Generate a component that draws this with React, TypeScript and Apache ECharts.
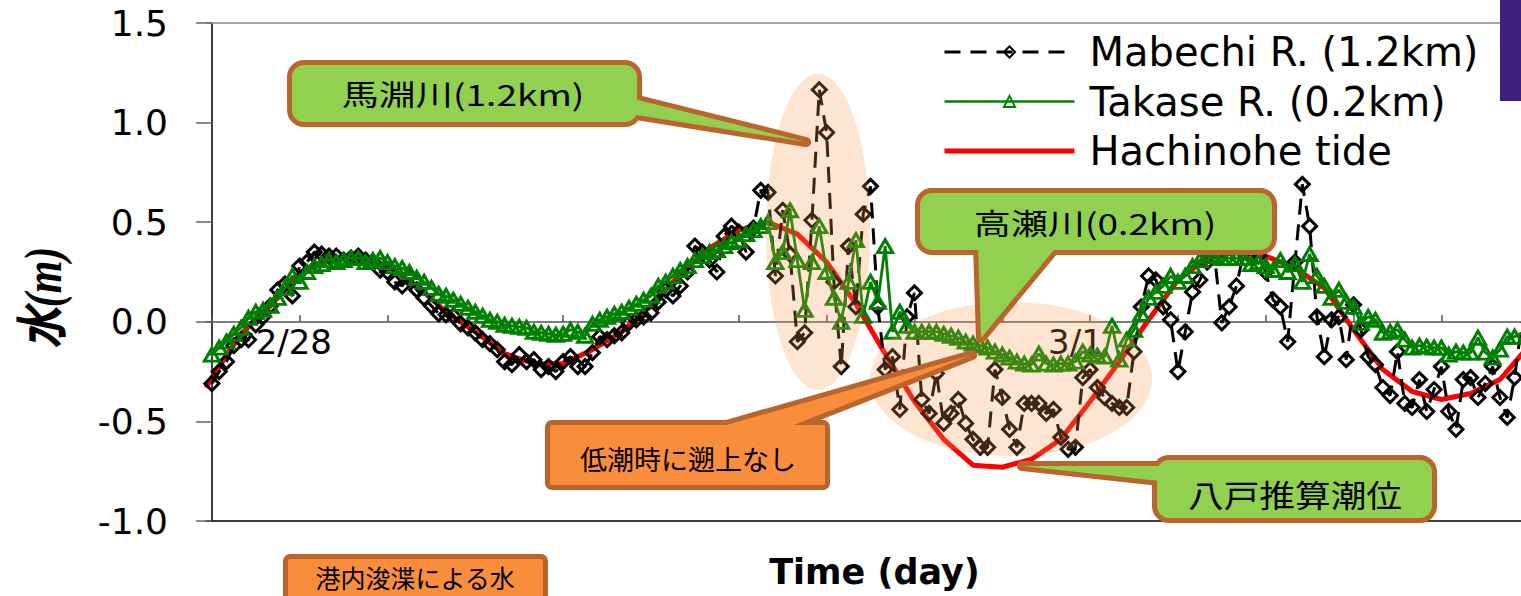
import React, { useEffect, useRef } from 'react';
import * as echarts from 'echarts';

// Water level (m) sampled every 15 minutes from the start of the record
const sampleStepHours = 0.25;

const mabechiLevel = [
  -0.31, -0.25, -0.2, -0.12,
  -0.09, -0.09, -0.015, 0.025,
  0.08, 0.16, 0.19, 0.13,
  0.28, 0.3, 0.35, 0.34,
  0.33, 0.33, 0.31, 0.32,
  0.33, 0.31, 0.3, 0.26,
  0.25, 0.2, 0.18, 0.23,
  0.16, 0.12, 0.08, 0.04,
  0.035, 0.03, -0.01, -0.03,
  -0.055, -0.09, -0.11, -0.14,
  -0.2, -0.215, -0.165, -0.2,
  -0.19, -0.24, -0.225, -0.25,
  -0.2, -0.175, -0.225, -0.225,
  -0.155, -0.075, -0.09, -0.07,
  -0.055, -0.005, 0.01, 0.025,
  0.045, 0.1, 0.16, 0.13,
  0.18, 0.25, 0.38, 0.35,
  0.31, 0.25, 0.43, 0.48,
  0.45, 0.35, 0.47, 0.66,
  0.65, 0.23, 0.56, 0.34,
  -0.1, -0.055, 0.51, 1.165,
  0.95, 0.2, -0.225, 0.38,
  0.075, 0.54, 0.68, 0.075,
  -0.24, -0.175, -0.44, 0.025,
  0.145, -0.39, -0.46, -0.26,
  -0.51, -0.46, -0.39, -0.51,
  -0.59, -0.63, -0.63, -0.24,
  -0.38, -0.54, -0.63, -0.41,
  -0.41, -0.41, -0.46, -0.44,
  -0.58, -0.64, -0.63, -0.28,
  -0.24, -0.33, -0.38, -0.41,
  -0.43, -0.43, -0.15, 0.075,
  0.23, 0.21, 0.075, 0.01,
  -0.25, -0.05, 0.15, 0.21,
  0.3, 0.33, -0.005, 0.075,
  0.18, 0.35, 0.34, 0.33,
  0.25, 0.11, 0.075, -0.1,
  0.3, 0.69, 0.48, 0.025,
  -0.175, 0.01, 0.025, -0.19,
  0.085, -0.04, -0.175, -0.215,
  -0.33, -0.37, -0.15, -0.41,
  -0.43, -0.29, -0.45, -0.34,
  -0.225, -0.45, -0.54, -0.29,
  -0.28, -0.38, -0.31, -0.225,
  -0.38, -0.48, -0.28, -0.005,
];

const takaseLevel = [
  -0.165, -0.13, -0.1, -0.06,
  -0.03, 0.02, 0.05, 0.06,
  0.08, 0.12, 0.17, 0.23,
  0.2, 0.25, 0.28, 0.29,
  0.31, 0.3, 0.31, 0.32,
  0.32, 0.3, 0.31, 0.32,
  0.3, 0.28, 0.27, 0.25,
  0.22, 0.2, 0.17, 0.14,
  0.13, 0.11, 0.09, 0.07,
  0.05, 0.03, 0.01, 0.0,
  -0.015, -0.02, -0.025, -0.03,
  -0.05, -0.055, -0.06, -0.065,
  -0.06, -0.04, -0.05, -0.07,
  -0.01, 0.01, 0.025, 0.04,
  0.05, 0.07, 0.09, 0.11,
  0.13, 0.18, 0.2, 0.23,
  0.26, 0.28, 0.31, 0.33,
  0.35, 0.36, 0.38, 0.4,
  0.41, 0.44, 0.46, 0.48,
  0.5, 0.3, 0.35, 0.56,
  0.31, 0.06, 0.3, 0.48,
  0.25, 0.12, 0.0, 0.2,
  0.41, 0.03, 0.2, 0.1,
  0.38, -0.05, 0.05, -0.02,
  -0.05, -0.05, -0.05, -0.05,
  -0.06, -0.07, -0.08, -0.1,
  -0.11, -0.12, -0.13, -0.15,
  -0.165, -0.18, -0.2, -0.21,
  -0.215, -0.16, -0.21, -0.215,
  -0.21, -0.21, -0.2, -0.15,
  -0.165, -0.17, -0.175, -0.02,
  -0.19, -0.09, -0.04, 0.04,
  0.12, 0.15, 0.18, 0.23,
  0.2, 0.23, 0.28, 0.31,
  0.33, 0.33, 0.32, 0.32,
  0.32, 0.32, 0.29, 0.3,
  0.28, 0.26, 0.31, 0.25,
  0.29, 0.2, 0.34, 0.23,
  0.18, 0.12, 0.16, 0.1,
  0.075, -0.005, 0.025, 0.01,
  -0.055, -0.05, -0.04, -0.09,
  -0.13, -0.12, -0.125, -0.13,
  -0.13, -0.165, -0.15, -0.155,
  -0.155, -0.08, -0.155, -0.18,
  -0.14, -0.075, -0.075, -0.055,
];

// Hachinohe predicted tide, hourly
const tideHours = [
  -0.2, 0, 1, 2, 3, 4, 5, 6, 7, 8, 9, 10, 11, 12, 13, 14, 15, 16, 17, 18, 19, 20, 21, 22,
  23, 24, 25, 26, 27, 28, 29, 30, 31, 32, 33, 34, 35, 36, 37, 38, 39, 40, 41, 42, 43, 44, 45,
];
const tideLevel = [
  -0.33, -0.28, -0.06, 0.08, 0.24, 0.32, 0.32, 0.28, 0.18, 0.05, -0.05, -0.16, -0.21, -0.21,
  -0.14, -0.05, 0.08, 0.24, 0.37, 0.46, 0.5, 0.44, 0.3, 0.09, -0.16, -0.4, -0.59, -0.72, -0.73,
  -0.69, -0.59, -0.4, -0.2, 0.01, 0.21, 0.32, 0.35, 0.33, 0.27, 0.17, -0.04, -0.24, -0.35, -0.39,
  -0.36, -0.29, -0.12,
];

const seriesNames = ['Mabechi R. (1.2km)', 'Takase R. (0.2km)', 'Hachinohe tide'];
const xTickHours = [0, 3, 6, 9, 12, 15, 18, 21, 24, 27, 30, 33, 36, 39, 42];
const dateLabelHours = [2.8, 29.5];
const dateLabelTexts = ['2/28', '3/1'];

const BROWN = '#B9652C';
const GREEN_FILL = '#92D050';
const ORANGE_FILL = '#F88D3C';
const CJK = '"Noto Sans CJK JP"';
const LATIN = 'DejaVu Sans';

type Box = { x: number; y: number; w: number; h: number; r: number };

// A callout box with a pointer: thick strokes underneath, fills on top,
// so the outline follows the union of box and pointer.
function callout(box: Box, pointer: number[][] | null, fill: string) {
  const rectShape = { x: box.x, y: box.y, width: box.w, height: box.h, r: box.r };
  const under: any[] = [];
  const over: any[] = [];
  if (pointer) {
    under.push({ type: 'polygon', z: 110, shape: { points: pointer }, style: { fill: BROWN, stroke: BROWN, lineWidth: 10, lineJoin: 'round' } });
    over.push({ type: 'polygon', z: 111, shape: { points: pointer }, style: { fill } });
  }
  under.push({ type: 'rect', z: 110, shape: rectShape, style: { fill: BROWN, stroke: BROWN, lineWidth: 10 } });
  over.push({ type: 'rect', z: 111, shape: rectShape, style: { fill } });
  return [...under, ...over];
}

function label(text: string, x: number, y: number, size: number, scaleX: number, weight = 'normal') {
  return {
    type: 'text',
    z: 112,
    x,
    y,
    scaleX,
    style: {
      text,
      x: 0,
      y: 0,
      fill: '#000',
      font: `${weight} ${size}px ${CJK}`,
      align: 'center',
      verticalAlign: 'middle',
    },
  };
}

export default function App() {
  const ref = useRef<HTMLDivElement>(null);

  useEffect(() => {
    if (!ref.current) return;
    const chart = echarts.init(ref.current, null, { renderer: 'svg' });

    const xMin = -0.2;
    const xMax = 44.72;

    const option = {
      animation: false,
      backgroundColor: '#fff',
      grid: [
        // plot area
        { left: 206, right: 0, top: 23, bottom: 75, containLabel: false },
        // upper half, whose bottom edge is the zero level: carries the time ticks and dates
        { left: 206, right: 0, top: 23, bottom: 274, containLabel: false },
      ],
      legend: {
        orient: 'vertical',
        left: 937,
        top: 27,
        itemWidth: 130,
        itemHeight: 14,
        itemGap: 9.5,
        data: [
          { name: seriesNames[0], lineStyle: { width: 3 } },
          { name: seriesNames[1], lineStyle: { width: 2.5 } },
          { name: seriesNames[2], lineStyle: { width: 5 }, itemStyle: { opacity: 0 } },
        ],
        textStyle: {
          fontFamily: LATIN,
          fontSize: 40,
          lineHeight: 40,
          color: '#000',
          padding: [0, 0, 0, 10],
        },
      },
      xAxis: [
        {
          gridIndex: 0,
          type: 'value',
          min: xMin,
          max: xMax,
          position: 'bottom',
          name: 'Time (day)',
          nameLocation: 'middle',
          nameGap: 33,
          nameTextStyle: {
            fontFamily: LATIN,
            fontWeight: 'bold',
            fontSize: 35,
            color: '#000',
            padding: [0, 0, 0, 22],
          },
          axisLine: { onZero: false, lineStyle: { color: '#000', width: 1.5 } },
          axisTick: { show: false },
          axisLabel: { show: false },
          splitLine: { show: false },
        },
        {
          gridIndex: 0,
          type: 'value',
          min: xMin,
          max: xMax,
          position: 'top',
          axisLine: { onZero: false, lineStyle: { color: '#888', width: 1.5 } },
          axisTick: { show: false },
          axisLabel: { show: false },
          splitLine: { show: false },
        },
        {
          gridIndex: 1,
          type: 'value',
          min: xMin,
          max: xMax,
          position: 'bottom',
          axisLine: { onZero: false, lineStyle: { color: '#555', width: 1.5 } },
          axisTick: {
            show: true,
            inside: true,
            length: 7,
            customValues: xTickHours,
            lineStyle: { color: '#555', width: 1.5 },
          },
          axisLabel: {
            show: true,
            customValues: dateLabelHours,
            margin: 3,
            fontFamily: LATIN,
            fontSize: 34,
            color: '#000',
            formatter: (v: number) => {
              const i = dateLabelHours.findIndex((h) => Math.abs(h - v) < 1e-6);
              return i >= 0 ? dateLabelTexts[i] : '';
            },
          },
          splitLine: { show: false },
        },
      ],
      yAxis: [
        {
          gridIndex: 0,
          type: 'value',
          min: -1,
          max: 1.5,
          interval: 0.5,
          axisLine: { show: true, onZero: true, lineStyle: { color: '#000', width: 1.5 } },
          axisTick: { show: true, inside: false, length: 16, lineStyle: { color: '#666', width: 1.5 } },
          axisLabel: {
            margin: 38,
            fontFamily: LATIN,
            fontSize: 36,
            color: '#000',
            formatter: (v: number) => v.toFixed(1),
          },
          splitLine: { show: false },
        },
        {
          gridIndex: 1,
          type: 'value',
          min: 0,
          max: 1.5,
          show: false,
          axisLine: { onZero: false },
          splitLine: { show: false },
        },
      ],
      series: [
        {
          name: seriesNames[2],
          type: 'line',
          xAxisIndex: 0,
          yAxisIndex: 0,
          z: 1,
          symbol: 'none',
          data: tideHours.map((h, i) => [h, tideLevel[i]]),
          lineStyle: { color: '#FF0000', width: 5 },
          itemStyle: { color: '#FF0000' },
        },
        {
          name: seriesNames[0],
          type: 'line',
          xAxisIndex: 0,
          yAxisIndex: 0,
          z: 2,
          symbol: 'diamond',
          symbolSize: [14, 14],
          data: mabechiLevel.map((v, i) => [i * sampleStepHours, v]),
          lineStyle: { color: '#000', width: 3, type: [16, 10] },
          itemStyle: { color: 'rgba(255,255,255,0)', borderColor: '#000', borderWidth: 3 },
        },
        {
          name: seriesNames[1],
          type: 'line',
          xAxisIndex: 0,
          yAxisIndex: 0,
          z: 3,
          symbol: 'triangle',
          symbolSize: [15, 13],
          data: takaseLevel.map((v, i) => [i * sampleStepHours, v]),
          lineStyle: { color: '#008000', width: 2.8 },
          itemStyle: { color: 'rgba(255,255,255,0)', borderColor: '#008000', borderWidth: 3 },
        },
      ],
      graphic: {
        elements: [
          // shaded areas
          { type: 'ellipse', z: 100, shape: { cx: 818, cy: 232, rx: 52, ry: 158 }, style: { fill: 'rgba(247,150,70,0.25)' } },
          { type: 'ellipse', z: 100, shape: { cx: 1011, cy: 379, rx: 141, ry: 77 }, style: { fill: 'rgba(247,150,70,0.25)' } },
          // callouts
          ...callout({ x: 292, y: 65, w: 345, h: 57, r: 12 }, [[630, 98], [806, 142], [630, 114]], GREEN_FILL),
          label('馬淵川(1.2km)', 463, 93, 29, 1.28),
          ...callout({ x: 920, y: 193, w: 352, h: 57, r: 12 }, [[978, 245], [981, 338], [1058, 245]], GREEN_FILL),
          label('高瀬川(0.2km)', 1095, 222, 29, 1.28),
          ...callout({ x: 550, y: 425, w: 275, h: 60, r: 2 }, [[716, 428], [972, 355], [786, 428]], ORANGE_FILL),
          label('低潮時に遡上なし', 688, 458, 27, 1.0),
          ...callout({ x: 1157, y: 460, w: 275, h: 58, r: 12 }, [[1160, 466], [1022, 466], [1160, 481]], GREEN_FILL),
          label('八戸推算潮位', 1295, 494, 31, 1.15),
          ...callout({ x: 288, y: 559, w: 255, h: 60, r: 2 }, null, ORANGE_FILL),
          label('港内浚渫による水', 415, 577, 25, 1.0),
          // y-axis title
          {
            type: 'text',
            z: 112,
            x: 43,
            y: 298,
            rotation: Math.PI / 2,
            scaleY: 1.25,
            style: {
              text: '水(m)',
              x: 0,
              y: 0,
              fill: '#000',
              font: `italic bold 42px "Liberation Serif", ${CJK}`,
              align: 'center',
              verticalAlign: 'middle',
            },
          },
          // corner tab
          { type: 'rect', z: 113, shape: { x: 1500, y: 0, width: 30, height: 101 }, style: { fill: '#3F1F7F' } },
        ],
      },
    };

    chart.setOption(option as any);
    return () => chart.dispose();
  }, []);

  return (
    <div
      ref={ref}
      style={{ position: 'fixed', left: 0, top: 0, width: 1521, height: 596, background: '#fff' }}
    />
  );
}
